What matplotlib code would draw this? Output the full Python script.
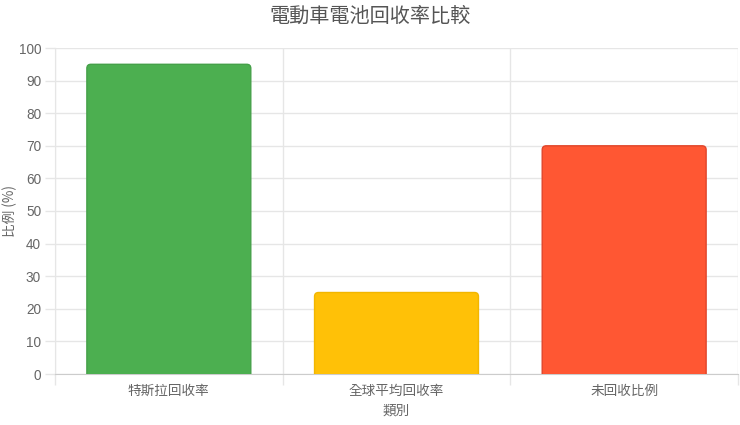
import matplotlib
matplotlib.use("Agg")
import matplotlib.pyplot as plt
from matplotlib.patches import FancyBboxPatch
import numpy as np

plt.rcParams['font.family'] = ['Noto Sans CJK TC', 'DejaVu Sans']

categories = ['特斯拉回收率', '全球平均回收率', '未回收比例']
values = [95, 25, 70]
colors = ['#4CAF50', '#FFC107', '#FF5733']
edgecolors = ['#45A049', '#F2B600', '#E0452A']
yticks = [0, 10, 20, 30, 40, 50, 60, 70, 80, 90, 100]

W, H = 740, 425
fig = plt.figure(figsize=(W/100, H/100), dpi=100)
L, R, T, B = 55, 738, 48, 374
ax = fig.add_axes([L/W, 1-B/H, (R-L)/W, (B-T)/H])

x = np.arange(len(categories))
bw = 0.72
bars = ax.bar(x, values, width=bw, color=colors, zorder=3)

ax.set_xlim(-0.5, len(categories)-0.5)
ax.set_ylim(0, 100)

# rounded top corners (replace rectangles)
px_x = (R-L) / len(categories)      # pixels per x unit
px_y = (B-T) / 100.0                 # pixels per y unit
aspect = px_x / px_y
rad = 4.0 / px_x
for b, fc, ec in zip(bars, colors, edgecolors):
    bx, by = b.get_x(), b.get_y()
    bwid, bh = b.get_width(), b.get_height()
    b.set_visible(False)
    p = FancyBboxPatch((bx, by - 5), bwid, bh + 5,
                       boxstyle=f"round,pad=0,rounding_size={rad}",
                       mutation_aspect=aspect,
                       facecolor=fc, edgecolor=ec, linewidth=1, zorder=3)
    ax.add_patch(p)

ax.set_yticks(yticks)
ax.set_xticks(x)
ax.set_xticklabels(categories)
ax.set_xticks(np.arange(-0.5, len(categories), 1.0), minor=True)

grid_c = '#e6e6e6'
ax.yaxis.grid(True, color=grid_c, linewidth=1, zorder=0)
ax.xaxis.grid(True, which='minor', color=grid_c, linewidth=1, zorder=0)
ax.tick_params(axis='x', which='major', length=0, pad=7, labelsize=9.8, labelcolor='#666666')
ax.tick_params(axis='x', which='minor', length=8, color=grid_c, width=1)
ax.tick_params(axis='y', length=7, color=grid_c, width=1, pad=3, labelsize=9.8, labelcolor='#666666')
for lab in ax.get_yticklabels():
    lab.set_fontfamily(['Liberation Sans', 'DejaVu Sans'])

for s in ['top', 'right']:
    ax.spines[s].set_visible(False)
ax.spines['left'].set_color(grid_c)
ax.spines['bottom'].set_color('#cccccc')

ax.set_xlabel('類別', fontsize=9.8, color='#666666')
ax.xaxis.set_label_coords(0.5, -(411-B)/(B-T))
ax.set_ylabel('比例 (%)', fontsize=9.8, color='#666666')
ax.yaxis.set_label_coords(-(L-10)/(R-L), 0.5)
ax.xaxis.label.set_va('center')
ax.yaxis.label.set_va('center')

fig.text(0.5, 1-16/H, '電動車電池回收率比較', ha='center', va='center',
         fontsize=14.5, color='#555555')

fig.savefig('out.png', dpi=100)
